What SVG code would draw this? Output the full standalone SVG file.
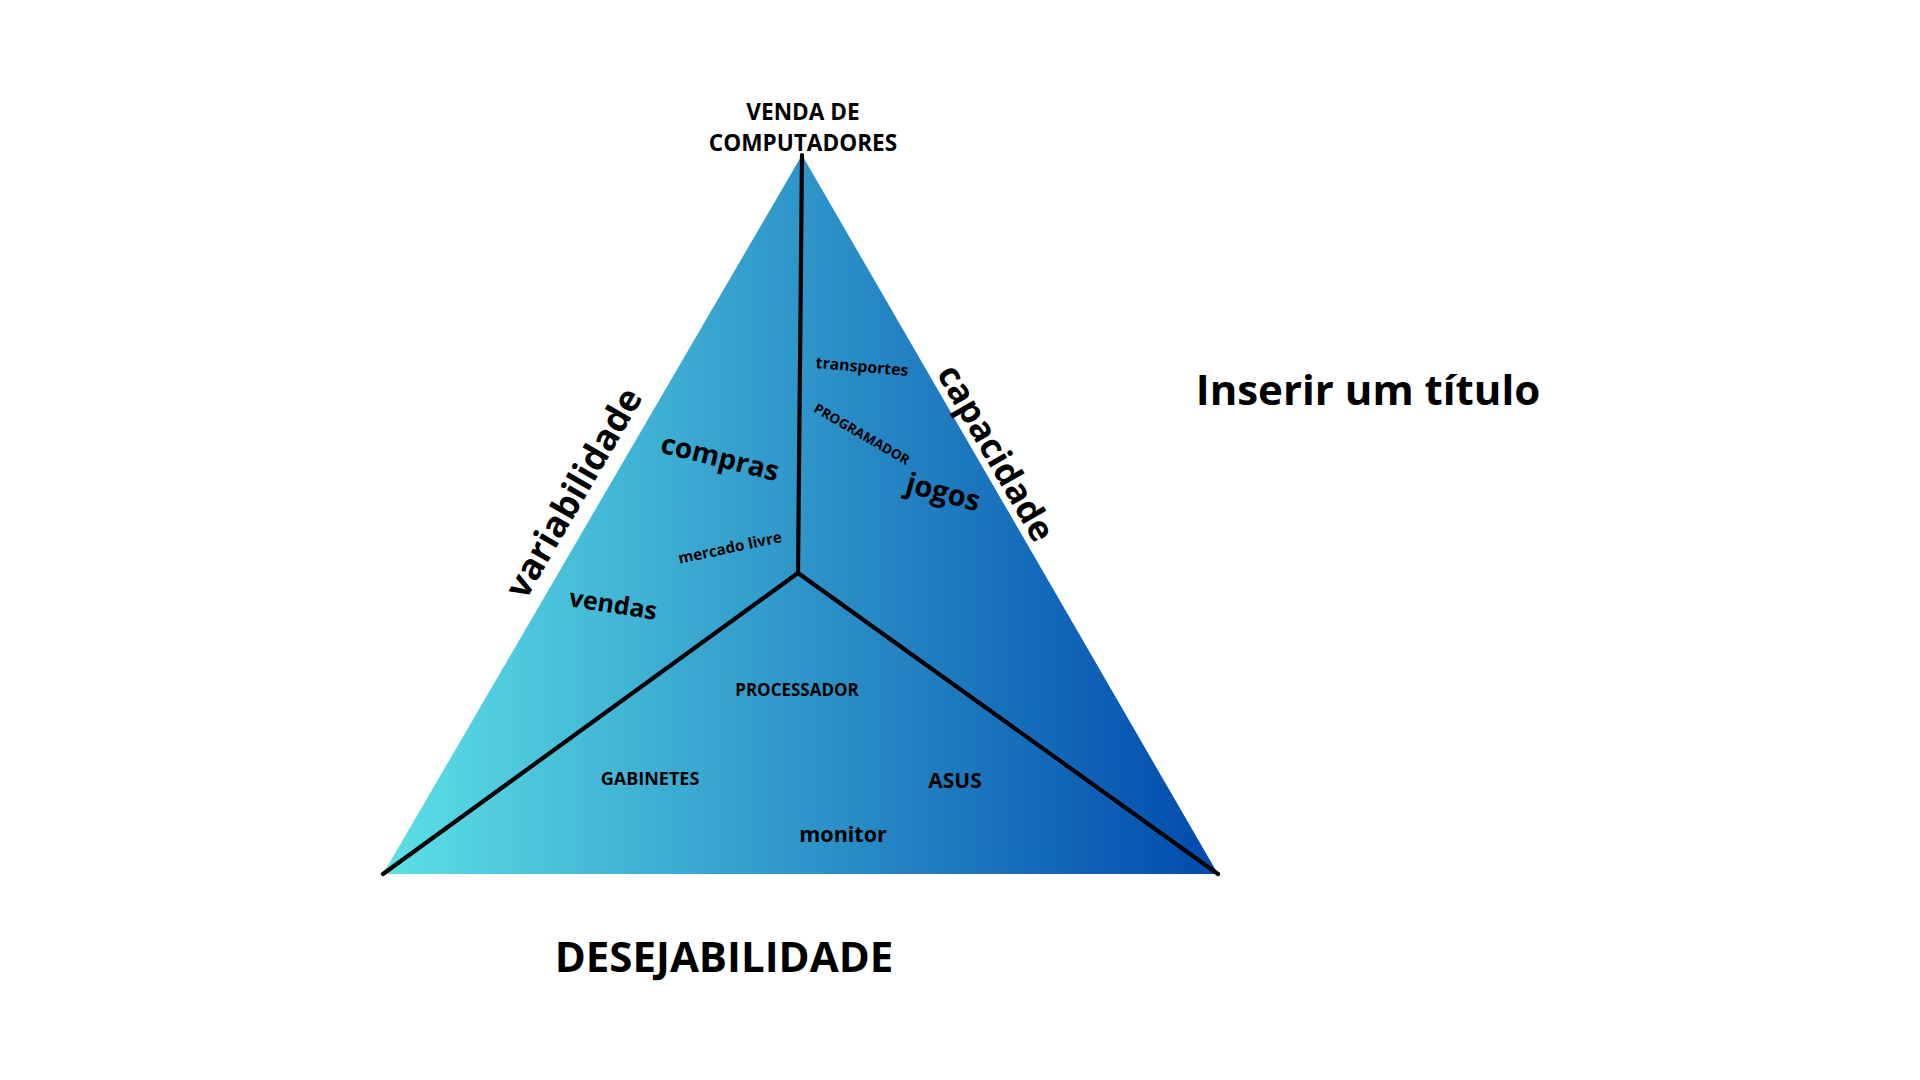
<svg xmlns="http://www.w3.org/2000/svg" width="1920" height="1080" viewBox="0 0 1920 1080">
<defs>
<linearGradient id="g" x1="0" y1="0" x2="1" y2="0">
<stop offset="0" stop-color="#5de0e6"/>
<stop offset="1" stop-color="#004aad"/>
</linearGradient>
<style>
text{font-family:"Open Sans","Noto Sans","Liberation Sans",sans-serif;font-weight:700;fill:#000;text-anchor:middle}
.ln{stroke:#000;stroke-width:4.2;fill:none;stroke-linecap:round}
</style>
</defs>
<rect width="1920" height="1080" fill="#fff"/>
<g id="triangle">
<polygon points="802,155 383,874 1218,874" fill="url(#g)"/>
</g>
<g id="connectors">
<line class="ln" x1="802" y1="155" x2="798" y2="573"/>
<line class="ln" x1="798" y1="573" x2="383" y2="874"/>
<line class="ln" x1="798" y1="573" x2="1218" y2="874"/>
</g>
<g id="apex-label">
<text x="803" y="120" font-size="22.6">VENDA DE</text>
<text x="803" y="151" font-size="22.6">COMPUTADORES</text>
</g>
<g id="title"><text x="1368" y="405" font-size="42">Inserir um título</text></g>
<g id="bottom-label"><text x="724" y="972" font-size="42">DESEJABILIDADE</text></g>
<g id="left-label"><text transform="translate(574,493) rotate(-60)" y="12" font-size="36">variabilidade</text></g>
<g id="right-label"><text transform="translate(996,453) rotate(60)" y="12" font-size="35">capacidade</text></g>
<g id="compras"><text transform="translate(720,458) rotate(14)" y="9" font-size="28">compras</text></g>
<g id="mercado"><text transform="translate(730,548) rotate(-12)" y="5" font-size="15.3">mercado livre</text></g>
<g id="vendas"><text transform="translate(613,605) rotate(9)" y="8" font-size="25">vendas</text></g>
<g id="transportes"><text transform="translate(862,367) rotate(5)" y="5" font-size="15.8">transportes</text></g>
<g id="programador"><text transform="translate(862,434) rotate(30)" y="5" font-size="13.5">PROGRAMADOR</text></g>
<g id="jogos"><text transform="translate(943,493) rotate(15)" y="9" font-size="29">jogos</text></g>
<g id="processador"><text x="797" y="696" font-size="17">PROCESSADOR</text></g>
<g id="gabinetes"><text x="650" y="785" font-size="18">GABINETES</text></g>
<g id="asus"><text x="955" y="788" font-size="21">ASUS</text></g>
<g id="monitor"><text x="843" y="842" font-size="21.5">monitor</text></g>
</svg>
